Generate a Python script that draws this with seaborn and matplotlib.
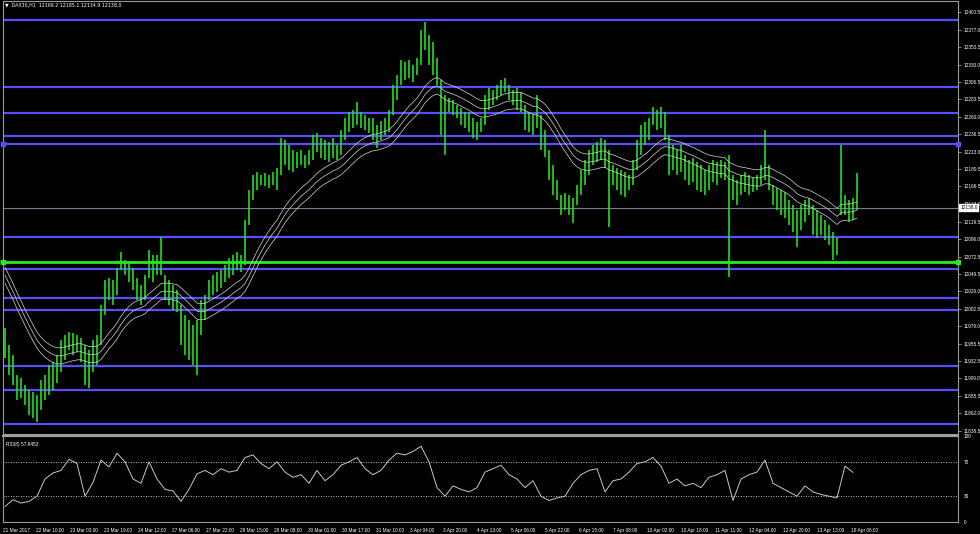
import numpy as np
import pandas as pd
import matplotlib
matplotlib.use("Agg")
import matplotlib.pyplot as plt
import seaborn as sns

sns.set_style("dark")
plt.rcParams['font.family'] = ['Liberation Sans', 'DejaVu Sans']

# ---------------- data ----------------
title_text = "DAX30,H1  12169.2 12185.1 12134.9 12138.0"
rsi_text = "RSI(8) 57.6453"

bar_high = [
    11977, 11954, 11941, 11914, 11910, 11900, 11894, 11891, 11887, 11907,
    11914, 11927, 11931, 11941, 11961, 11967, 11971, 11970, 11967, 11963,
    11954, 11947, 11961, 11967, 12008, 12041, 12044, 12041, 12057, 12079,
    12068, 12065, 12057, 12044, 12034, 12048, 12081, 12075, 12075, 12099,
    12048, 12041, 12034, 12028, 12008, 11994, 11987, 11981, 11987, 12014,
    12021, 12041, 12048, 12052, 12054, 12061, 12071, 12075, 12079, 12075,
    12121, 12162, 12182, 12186, 12182, 12185, 12182, 12186, 12191, 12232,
    12229, 12222, 12215, 12213, 12215, 12209, 12215, 12236, 12238, 12232,
    12229, 12226, 12232, 12222, 12242, 12258, 12266, 12269, 12280, 12266,
    12262, 12258, 12258, 12249, 12255, 12258, 12269, 12303, 12316, 12336,
    12333, 12336, 12329, 12339, 12376, 12387, 12370, 12360, 12339, 12309,
    12289, 12285, 12282, 12276, 12272, 12266, 12266, 12258, 12253, 12258,
    12289, 12299, 12296, 12303, 12309, 12312, 12303, 12296, 12299, 12293,
    12276, 12266, 12262, 12289, 12262, 12242, 12215, 12195, 12175, 12155,
    12158, 12155, 12151, 12168, 12189, 12202, 12215, 12222, 12226, 12232,
    12229, 12215, 12195, 12191, 12189, 12186, 12182, 12202, 12229, 12249,
    12253, 12258, 12273, 12269, 12273, 12266, 12236, 12222, 12215, 12222,
    12209, 12202, 12205, 12199, 12195, 12189, 12195, 12202, 12199, 12202,
    12199, 12209, 12182, 12175, 12182, 12186, 12182, 12178, 12182, 12195,
    12242, 12195, 12168, 12164, 12162, 12159, 12148, 12142, 12135, 12142,
    12148, 12151, 12142, 12135, 12128, 12121, 12115, 12105, 12097, 12222,
    12155, 12148, 12151, 12185.1,
]
bar_low = [
    11937, 11914, 11900, 11880, 11883, 11873, 11860, 11856, 11851, 11867,
    11880, 11887, 11894, 11903, 11918, 11934, 11947, 11941, 11945, 11931,
    11900, 11896, 11918, 11927, 11954, 11994, 12014, 12008, 12021, 12055,
    12048, 12038, 12028, 12014, 12008, 12014, 12044, 12038, 12048, 12048,
    12014, 12008, 12001, 11998, 11954, 11941, 11934, 11927, 11914, 11967,
    11987, 12014, 12021, 12025, 12030, 12038, 12044, 12048, 12055, 12052,
    12061, 12115, 12148, 12162, 12168, 12167, 12164, 12168, 12162, 12182,
    12195, 12189, 12186, 12191, 12195, 12191, 12195, 12202, 12213, 12205,
    12202, 12199, 12205, 12202, 12209, 12229, 12240, 12245, 12249, 12245,
    12242, 12238, 12229, 12218, 12229, 12236, 12240, 12262, 12282, 12303,
    12309, 12312, 12307, 12316, 12329, 12350, 12329, 12316, 12303, 12236,
    12209, 12266, 12262, 12258, 12249, 12245, 12240, 12232, 12229, 12240,
    12249, 12269, 12276, 12282, 12289, 12293, 12282, 12276, 12269, 12266,
    12242, 12240, 12236, 12245, 12215, 12206, 12175, 12155, 12148, 12128,
    12135, 12128, 12118, 12142, 12155, 12168, 12182, 12195, 12199, 12202,
    12191, 12112, 12168, 12162, 12155, 12152, 12162, 12168, 12189, 12209,
    12222, 12229, 12249, 12242, 12245, 12229, 12182, 12189, 12182, 12186,
    12175, 12168, 12172, 12162, 12159, 12155, 12162, 12172, 12168, 12178,
    12175, 12045, 12148, 12142, 12155, 12159, 12155, 12159, 12162, 12168,
    12175, 12162, 12142, 12135, 12128, 12124, 12115, 12105, 12085, 12108,
    12119, 12128, 12101, 12097, 12101, 12095, 12088, 12068, 12075, 12128,
    12128, 12119, 12121, 12134.9,
]

ma_seed = 12057.0
ma_period = 20
envelope_pct = 0.09

rsi_values = [
    18, 26, 22, 24, 30, 50, 57, 60, 73, 68,
    30, 46, 72, 64, 80, 70, 50, 45, 70, 50,
    38, 36, 24, 38, 56, 60, 55, 62, 58, 60,
    75, 78, 68, 62, 70, 58, 52, 55, 45, 60,
    48, 55, 66, 70, 75, 62, 55, 60, 72, 80,
    78, 82, 88, 70, 40, 30, 42, 38, 35, 40,
    58, 62, 66, 55, 50, 40, 48, 30, 25, 28,
    30, 45, 55, 60, 62, 35, 48, 50, 58, 68,
    70, 75, 65, 45, 50, 42, 45, 40, 52, 55,
    60, 25, 50, 55, 58, 72, 45, 40, 35, 30,
    42, 35, 32, 30, 28, 65, 57.6453,
]
rsi_levels = [70, 30]
rsi_ticks = [100, 70, 30, 0]

current_price = 12138.0
blue_levels = [12389.8, 12300.0, 12265.0, 12234.0, 12223.5, 12098.7,
               12055.8, 12017.0, 12000.8, 11925.7, 11893.5, 11848.0]
green_level = 12065.0

price_ticks = [12400.5, 12377.0, 12353.5, 12330.0, 12306.5, 12283.5, 12260.0,
               12236.5, 12213.0, 12189.5, 12166.5, 12143.0, 12119.5, 12096.0,
               12072.5, 12049.5, 12026.0, 12002.5, 11979.0, 11955.5, 11932.5,
               11909.0, 11885.5, 11862.0, 11838.5]

time_labels = ["21 Mar 2017", "22 Mar 10:00", "23 Mar 03:00", "23 Mar 19:00",
               "24 Mar 12:00", "27 Mar 06:00", "27 Mar 22:00", "28 Mar 15:00",
               "29 Mar 08:00", "30 Mar 01:00", "30 Mar 17:00", "31 Mar 10:00",
               "3 Apr 04:00", "3 Apr 20:00", "4 Apr 13:00", "5 Apr 06:00",
               "5 Apr 22:00", "6 Apr 15:00", "7 Apr 08:00", "10 Apr 02:00",
               "10 Apr 18:00", "11 Apr 11:00", "12 Apr 04:00", "12 Apr 20:00",
               "13 Apr 13:00", "18 Apr 06:00"]

# ---------------- figure ----------------
W, H = 980, 534
FS = 3.4
fig = plt.figure(figsize=(W / 100, H / 100), dpi=100, facecolor="black")

def frac(x0, y0, x1, y1):
    return [x0 / W, 1 - y1 / H, (x1 - x0) / W, (y1 - y0) / H]

ax = fig.add_axes(frac(3, 1, 958, 434))
axr = fig.add_axes(frac(3, 436, 958, 522), sharex=ax)
for a in (ax, axr):
    a.set_facecolor("black")
    a.grid(False)
    for s in a.spines.values():
        s.set_color("#9a9a9a")
        s.set_linewidth(0.8)

px_per_bar = 4.0
xmin = -0.5
xmax = (958 - 3) / px_per_bar - 0.5
ax.set_xlim(xmin, xmax)

hi = np.array(bar_high, dtype=float)
lo = np.array(bar_low, dtype=float)
idx = np.arange(len(hi))
df = pd.DataFrame({"i": idx, "high": hi, "low": lo})

# horizontal levels
for lv in blue_levels:
    ax.axhline(lv, color="#5a4cff", lw=1.6, zorder=2)
ax.axhline(green_level, color="#22ee22", lw=2.0, zorder=2)
ax.plot([0.0, 1.0], [green_level, green_level], transform=ax.get_yaxis_transform(),
        ls="none", marker="s", ms=3.2, color="#22ee22", clip_on=False, zorder=5)
ax.plot([0.0, 1.0], [12223.5, 12223.5], transform=ax.get_yaxis_transform(),
        ls="none", marker="s", ms=2.8, color="#5a4cff", clip_on=False, zorder=5)
ax.axhline(current_price, color="#6f7f8f", lw=0.8, zorder=2)

# bars
ax.vlines(df["i"], df["low"], df["high"], color="#22e622", lw=1.15, zorder=3)

# moving average + envelopes
med = (hi + lo) / 2
alpha = 2.0 / (ma_period + 1)
ema = np.empty_like(med)
prev = ma_seed
for k, v in enumerate(med):
    prev = prev + alpha * (v - prev)
    ema[k] = prev
ma_df = pd.DataFrame({"i": idx, "mid": ema,
                      "up": ema * (1 + envelope_pct / 100),
                      "dn": ema * (1 - envelope_pct / 100)})
for col in ["up", "mid", "dn"]:
    sns.lineplot(data=ma_df, x="i", y=col, ax=ax, color="#c8c8c8", lw=0.55, zorder=4)

ax.set_ylim(11834.5, 12415.3)
ax.yaxis.tick_right()
ax.set_yticks(price_ticks)
ax.set_yticklabels([f"{v:.1f}" for v in price_ticks])
ax.tick_params(axis="y", colors="#9a9a9a", labelcolor="white", labelsize=FS,
               length=2.5, width=0.6, pad=1.5, direction="out")
ax.tick_params(axis="x", bottom=False, labelbottom=False)
ax.set_xlabel("")
ax.set_ylabel("")

# current price box
ax.annotate(f"{current_price:.1f}", xy=(1.0, current_price),
            xycoords=("axes fraction", "data"), xytext=(1.5, 0),
            textcoords="offset points", ha="left", va="center", fontsize=FS,
            color="black", annotation_clip=False, zorder=10,
            bbox=dict(boxstyle="square,pad=0.2", fc="white", ec="white"))

fig.text(5 / W, 1 - 5 / H, "\u25BC  " + title_text, color="white", fontsize=FS,
         ha="left", va="center", family=['DejaVu Sans'])

# ---------------- RSI ----------------
rsi_df = pd.DataFrame({"i": np.arange(len(rsi_values)) * 2.0, "rsi": rsi_values})
for lv in rsi_levels:
    axr.axhline(lv, color="white", lw=0.6, ls=(0, (1, 2)), zorder=2)
sns.lineplot(data=rsi_df, x="i", y="rsi", ax=axr, color="#c8c8c8", lw=0.7, zorder=3)
axr.set_ylim(0, 100)
axr.yaxis.tick_right()
axr.set_yticks(rsi_ticks)
axr.set_yticklabels([str(v) for v in rsi_ticks])
axr.tick_params(axis="y", colors="#9a9a9a", labelcolor="white", labelsize=FS,
                length=0, pad=4)
axr.spines["top"].set_color("#a0a0a0")
axr.spines["top"].set_linewidth(1.6)
axr.text(0.003, 0.93, rsi_text, transform=axr.transAxes, color="white",
         fontsize=FS, ha="left", va="top")

tick_px = [max(3.0, 2 + 33.96 * k) for k in range(len(time_labels))]
tick_pos = [(p - 3) / px_per_bar + xmin for p in tick_px]
axr.set_xticks(tick_pos)
axr.set_xticklabels(time_labels, ha="left", fontsize=FS, color="white")
axr.tick_params(axis="x", colors="#9a9a9a", labelcolor="white", length=3,
                width=0.6, pad=1.5, direction="out")
axr.set_xlim(xmin, xmax)
axr.set_xlabel("")
axr.set_ylabel("")

fig.savefig("out.png", dpi=100, facecolor="black")
